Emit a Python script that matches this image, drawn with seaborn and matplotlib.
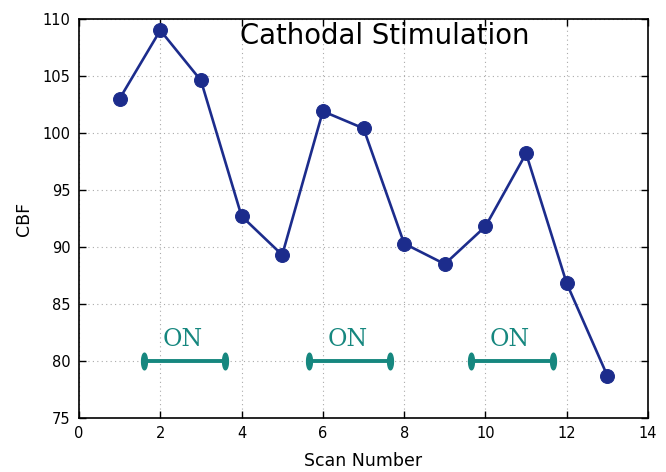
import numpy as np
import pandas as pd
import matplotlib
matplotlib.use("Agg")
import matplotlib.pyplot as plt
import seaborn as sns

scan = [1, 2, 3, 4, 5, 6, 7, 8, 9, 10, 11, 12, 13]
cbf = [103.0, 109.0, 104.6, 92.7, 89.3, 101.9, 100.4, 90.3, 88.5, 91.8, 98.2, 86.8, 78.7]
on_starts = [1.6, 5.65, 9.65]
on_ends = [3.6, 7.65, 11.65]
on_level = 80
on_label = "ON"
xticks = [0, 2, 4, 6, 8, 10, 12, 14]
yticks = [75, 80, 85, 90, 95, 100, 105, 110]

sns.set_theme(style="ticks")
plt.rcParams['font.family'] = ['DejaVu Sans']

fig = plt.figure(figsize=(6.66, 4.72), dpi=100)
ax = fig.add_axes([0.1186, 0.1144, 0.973 - 0.1186, 0.96 - 0.1144])

df = pd.DataFrame({"Scan Number": scan, "CBF": cbf})
navy = "#1c2c8c"
teal = "#16877f"

sns.lineplot(data=df, x="Scan Number", y="CBF", ax=ax, color=navy, lw=1.9,
             marker="o", markersize=10, markeredgecolor=navy, markerfacecolor=navy)

t = np.linspace(0, 2 * np.pi, 40)
ell = list(zip(0.35 * np.cos(t), np.sin(t)))
for s, e in zip(on_starts, on_ends):
    ax.plot([s, e], [on_level, on_level], color=teal, lw=2.8, marker=ell,
            markersize=12, markerfacecolor=teal, markeredgecolor=teal)
    ax.text((s + e) / 2 - 0.05, on_level + 0.9, on_label, color=teal,
            fontsize=17, family="DejaVu Serif", ha="center", va="bottom")

ax.text(7.52, 108.5, "Cathodal Stimulation", fontsize=19.8, ha="center", va="center", color="black")

ax.set_xlim(0, 14)
ax.set_ylim(75, 110)
ax.set_xticks(xticks)
ax.set_yticks(yticks)
ax.grid(True, linestyle=(0, (1, 3)), color="#aaaaaa", lw=0.8)
ax.tick_params(direction="in", top=True, right=True, length=5, width=1,
               labelsize=10.5, colors="black", pad=6)
for sp in ax.spines.values():
    sp.set_color("black")
    sp.set_linewidth(1.2)
ax.set_xlabel("Scan Number", fontsize=12.5, labelpad=8, color="black")
ax.set_ylabel("CBF", fontsize=12.5, labelpad=7, color="black")

fig.savefig("out.png", dpi=100, facecolor="white")
